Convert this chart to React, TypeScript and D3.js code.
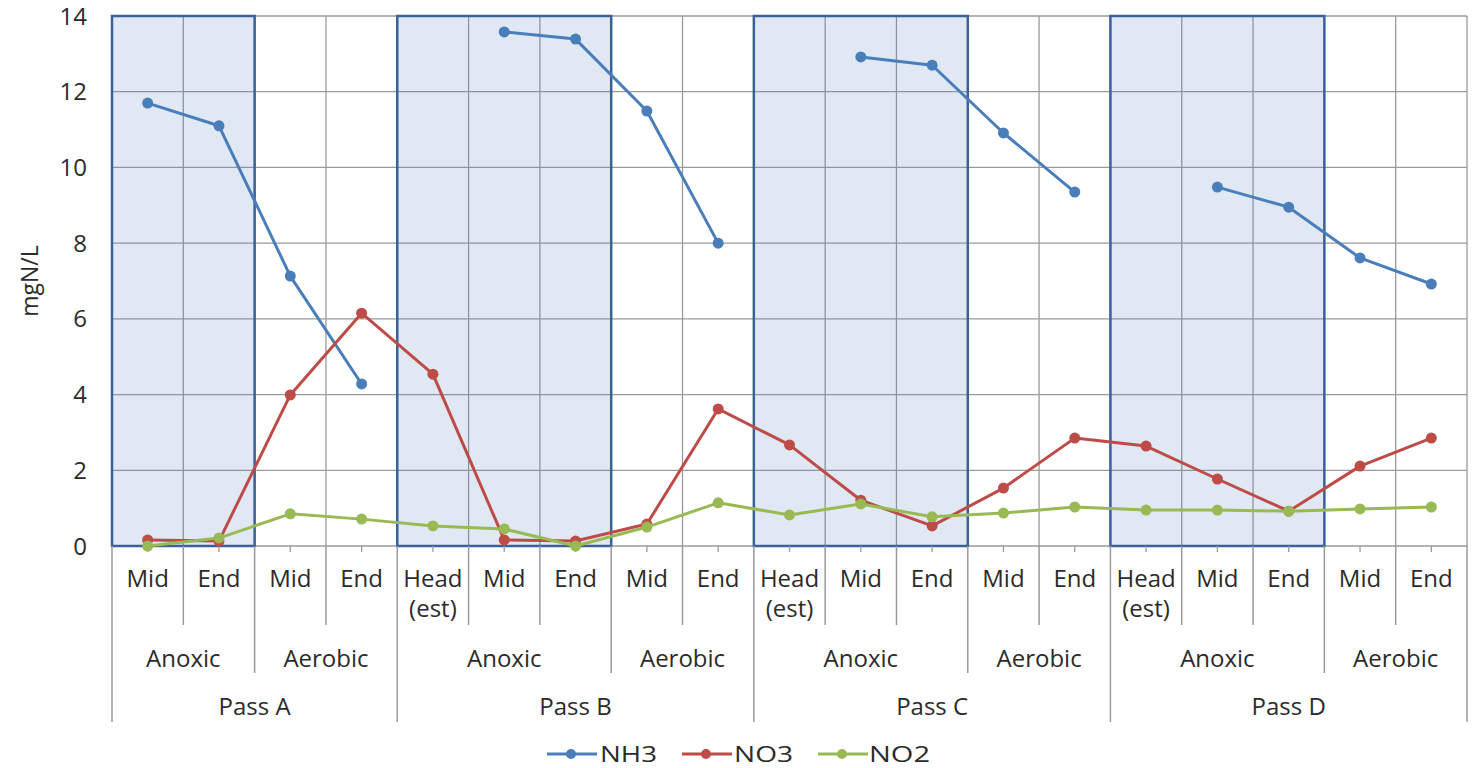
import React from "react";
import * as d3 from "d3";

// Sampling points along the four passes
const categories = [
  "Mid", "End", "Mid", "End",
  "Head (est)", "Mid", "End", "Mid", "End",
  "Head (est)", "Mid", "End", "Mid", "End",
  "Head (est)", "Mid", "End", "Mid", "End",
];
const zones = [
  "Anoxic", "Anoxic", "Aerobic", "Aerobic",
  "Anoxic", "Anoxic", "Anoxic", "Aerobic", "Aerobic",
  "Anoxic", "Anoxic", "Anoxic", "Aerobic", "Aerobic",
  "Anoxic", "Anoxic", "Anoxic", "Aerobic", "Aerobic",
];
const passes = [
  "Pass A", "Pass A", "Pass A", "Pass A",
  "Pass B", "Pass B", "Pass B", "Pass B", "Pass B",
  "Pass C", "Pass C", "Pass C", "Pass C", "Pass C",
  "Pass D", "Pass D", "Pass D", "Pass D", "Pass D",
];

const nh3: (number | null)[] = [
  11.7, 11.1, 7.13, 4.28,
  null, 13.58, 13.39, 11.49, 8.0,
  null, 12.92, 12.7, 10.91, 9.35,
  null, 9.48, 8.95, 7.61, 6.92,
];
const no3: number[] = [
  0.16, 0.13, 3.99, 6.15,
  4.54, 0.16, 0.13, 0.58, 3.62,
  2.67, 1.21, 0.53, 1.53, 2.85,
  2.64, 1.77, 0.92, 2.11, 2.85,
];
const no2: number[] = [
  0.0, 0.21, 0.85, 0.71,
  0.53, 0.45, 0.0, 0.5, 1.14,
  0.82, 1.11, 0.77, 0.87, 1.03,
  0.95, 0.95, 0.92, 0.98, 1.03,
];

const yTicks = [0, 2, 4, 6, 8, 10, 12, 14];

const seriesDefs = [
  { name: "NH3", values: nh3, color: "#4a7ebb" },
  { name: "NO3", values: no3, color: "#be4b48" },
  { name: "NO2", values: no2, color: "#98b954" },
];

const W = 1478;
const H = 768;
const left = 112;
const right = 1467;
const top = 16;
const bottom = 546;
const FONT = "'Open Sans', sans-serif";
const FS = 24;
const TEXT = "#2b2b2b";
const GRID = "#9a9a9a";

// contiguous runs of equal keys (used for zone / pass label rows)
function runs(keys: string[], parentKeys?: string[]) {
  const out: { label: string; start: number; end: number }[] = [];
  keys.forEach((k, i) => {
    const last = out[out.length - 1];
    const samePar = !parentKeys || (i > 0 && parentKeys[i] === parentKeys[i - 1]);
    if (last && last.label === k && last.end === i - 1 && samePar) last.end = i;
    else out.push({ label: k, start: i, end: i });
  });
  return out;
}

export default function App() {
  const idx = categories.map((_, i) => String(i));
  const x = d3.scaleBand<string>().domain(idx).range([left, right]).padding(0);
  const y = d3.scaleLinear().domain([0, 14]).range([bottom, top]);
  const bw = x.bandwidth();
  const cx = (i: number) => (x(String(i)) as number) + bw / 2;

  const zoneRuns = runs(zones, passes);
  const passRuns = runs(passes);
  const anoxicRuns = zoneRuns.filter((r) => r.label === "Anoxic");

  const line = d3
    .line<number | null>()
    .defined((d) => d !== null)
    .x((_, i) => cx(i))
    .y((d) => y(d as number));

  // boundaries: category edges, zone edges, pass edges
  const zoneEdges = new Set<number>();
  zoneRuns.forEach((r) => zoneEdges.add(r.start));
  const passEdges = new Set<number>();
  passRuns.forEach((r) => passEdges.add(r.start));

  const rowCat = 625;
  const rowZone = 673;
  const rowPass = 722;

  const legendY = 754;
  const legendItems = [
    { x: 547, tx: 600, len: 57 },
    { x: 682, tx: 734, len: 59 },
    { x: 818, tx: 869, len: 61 },
  ];

  return (
    <svg width={W} height={H} style={{ position: "absolute", left: 0, top: 0, background: "#fff" }}>
      {/* horizontal gridlines */}
      {yTicks.map((t) => (
        <line key={"hg" + t} x1={left} x2={right} y1={y(t)} y2={y(t)} stroke={GRID} strokeWidth={1.3} />
      ))}
      {/* vertical gridlines at category edges */}
      {d3.range(categories.length + 1).map((i) => {
        const xe = i < categories.length ? (x(String(i)) as number) : right;
        return <line key={"vg" + i} x1={xe} x2={xe} y1={top} y2={bottom} stroke={GRID} strokeWidth={1.3} />;
      })}

      {/* anoxic zones */}
      {anoxicRuns.map((r, k) => {
        const x0 = x(String(r.start)) as number;
        const x1 = (x(String(r.end)) as number) + bw;
        return (
          <rect
            key={"an" + k}
            x={x0}
            y={y(14)}
            width={x1 - x0}
            height={y(0) - y(14)}
            fill="rgba(79,129,189,0.18)"
            stroke="#3a6198"
            strokeWidth={2.5}
          />
        );
      })}

      {/* category axis tick marks */}
      {categories.map((_, i) => (
        <line key={"tk" + i} x1={cx(i)} x2={cx(i)} y1={bottom} y2={bottom + 6} stroke={GRID} strokeWidth={1.3} />
      ))}
      {/* category axis dividers */}
      {d3.range(categories.length + 1).map((i) => {
        const xe = i < categories.length ? (x(String(i)) as number) : right;
        const y2 = i === categories.length || passEdges.has(i) ? rowPass : zoneEdges.has(i) ? rowZone : rowCat;
        return <line key={"ad" + i} x1={xe} x2={xe} y1={bottom} y2={y2} stroke={GRID} strokeWidth={1.5} />;
      })}

      {/* series */}
      {seriesDefs.map((s) => (
        <g key={s.name}>
          <path d={line(s.values) || ""} fill="none" stroke={s.color} strokeWidth={3} strokeLinejoin="round" />
          {s.values.map((v, i) =>
            v === null ? null : <circle key={i} cx={cx(i)} cy={y(v)} r={5.5} fill={s.color} />
          )}
        </g>
      ))}

      {/* y axis labels */}
      {yTicks.map((t) => (
        <text key={"yl" + t} x={87} y={y(t)} dy="0.36em" textAnchor="end" fontFamily={FONT} fontSize={FS} fill={TEXT}>
          {t}
        </text>
      ))}
      <text
        transform={`translate(38,${281}) rotate(-90)`}
        textAnchor="middle"
        fontFamily={FONT}
        fontSize={23}
        fill={TEXT}
      >
        mgN/L
      </text>

      {/* category labels */}
      {categories.map((c, i) => {
        const parts = c.split(" ");
        return (
          <text key={"cl" + i} x={cx(i)} textAnchor="middle" fontFamily={FONT} fontSize={FS} fill={TEXT}>
            {parts.map((p, k) => (
              <tspan key={k} x={cx(i)} y={587 + k * 30}>
                {p}
              </tspan>
            ))}
          </text>
        );
      })}
      {zoneRuns.map((r, k) => {
        const mx = ((x(String(r.start)) as number) + (x(String(r.end)) as number) + bw) / 2;
        return (
          <text key={"zl" + k} x={mx} y={667} textAnchor="middle" fontFamily={FONT} fontSize={FS} fill={TEXT}>
            {r.label}
          </text>
        );
      })}
      {passRuns.map((r, k) => {
        const mx = ((x(String(r.start)) as number) + (x(String(r.end)) as number) + bw) / 2;
        return (
          <text key={"pl" + k} x={mx} y={715} textAnchor="middle" fontFamily={FONT} fontSize={FS} fill={TEXT}>
            {r.label}
          </text>
        );
      })}

      {/* legend */}
      {seriesDefs.map((s, k) => (
        <g key={"lg" + s.name}>
          <line x1={legendItems[k].x} x2={legendItems[k].x + 50} y1={legendY} y2={legendY} stroke={s.color} strokeWidth={3} />
          <circle cx={legendItems[k].x + 24} cy={legendY} r={5} fill={s.color} />
          <text
            x={legendItems[k].tx}
            y={legendY}
            dy="0.36em"
            fontFamily={FONT}
            fontSize={21}
            textLength={legendItems[k].len}
            lengthAdjust="spacingAndGlyphs"
            fill={TEXT}
          >
            {s.name}
          </text>
        </g>
      ))}
    </svg>
  );
}
